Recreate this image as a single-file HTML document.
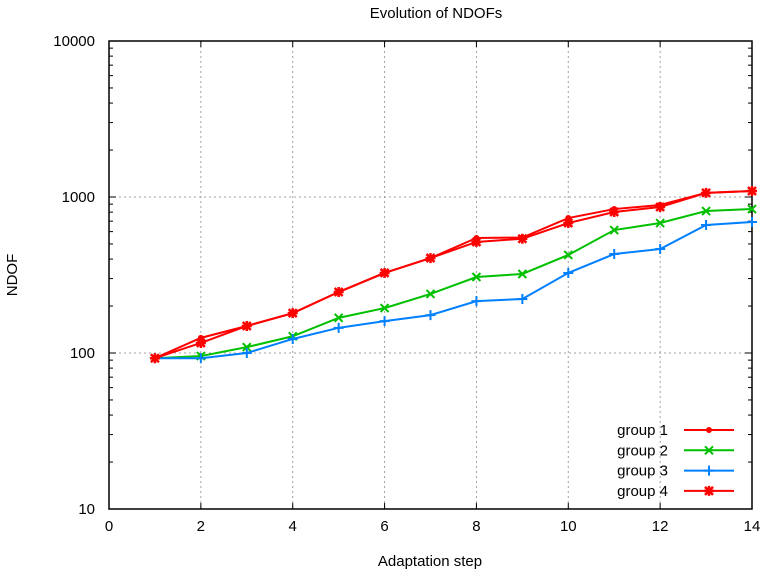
<!DOCTYPE html>
<html><head><meta charset="utf-8"><style>
body{margin:0;background:#fff}
svg{display:block;font-family:"Liberation Sans",sans-serif}
</style></head><body>
<svg id="chart" width="764" height="571" xmlns="http://www.w3.org/2000/svg"></svg>
<script>
const steps=[1,2,3,4,5,6,7,8,9,10,11,12,13,14];
const group1=[92.6,125,149,180,246,326,406,546,550,733,837,889,1062,1092];
const group2=[92.6,95.6,109,128,168,194,239,307,321,425,614,681,813,837];
const group3=[92.6,92.6,100,123,145,160,175,215,222,326,431,464,662,692];
const group4=[92.6,116,149,180,246,326,406,515,540,681,801,863,1062,1092];
const xTicks=[0,2,4,6,8,10,12,14];
const yTicks=[10,100,1000,10000];
const seriesNames=["group 1","group 2","group 3","group 4"];
const colors=["#ff0000","#00c000","#0080ff","#ff0000"];
const L=109,R=752,T=41,B=509;
const NS="http://www.w3.org/2000/svg";
const svg=document.getElementById('chart');
const xs=v=>L+(v-0)/(14-0)*(R-L);
const ys=v=>B-(Math.log10(v)-1)/3*(B-T);
function mk(tag,attrs,parent){const e=document.createElementNS(NS,tag);for(const k in attrs)e.setAttribute(k,attrs[k]);(parent||svg).appendChild(e);return e;}
xTicks.forEach(t=>{if(t>0&&t<14){const g=mk('line',{x1:xs(t),x2:xs(t),y1:T,y2:B,stroke:'#a0a0a0','stroke-dasharray':'2,3'});

}});
yTicks.forEach(t=>{if(t>10&&t<10000){const g=mk('line',{x1:L,x2:R,y1:ys(t),y2:ys(t),stroke:'#a0a0a0','stroke-dasharray':'2,3'});

}});
const fr=mk('rect',{x:L,y:T,width:R-L,height:B-T,fill:'none',stroke:'#000','stroke-width':1.5});


xTicks.forEach(t=>{const x=xs(t);
mk('line',{x1:x,x2:x,y1:B,y2:B-6,stroke:'#000'});mk('line',{x1:x,x2:x,y1:T,y2:T+6,stroke:'#000'});
const tx=mk('text',{x:x,y:B+22,'text-anchor':'middle','font-size':15});tx.textContent=t;

});
yTicks.forEach(t=>{const y=ys(t);
mk('line',{x1:L,x2:L+7,y1:y,y2:y,stroke:'#000'});mk('line',{x1:R,x2:R-7,y1:y,y2:y,stroke:'#000'});
const tx=mk('text',{x:95,y:y+5,'text-anchor':'end','font-size':15});tx.textContent=t;


if(t<10000)for(let m=2;m<10;m++){const yy=ys(t*m);mk('line',{x1:L,x2:L+4,y1:yy,y2:yy,stroke:'#000'});mk('line',{x1:R,x2:R-4,y1:yy,y2:yy,stroke:'#000'});}});
let tt=mk('text',{x:436,y:18,'text-anchor':'middle','font-size':15});tt.textContent='Evolution of NDOFs';


tt=mk('text',{x:430,y:566,'text-anchor':'middle','font-size':15});tt.textContent='Adaptation step';


tt=mk('text',{x:17,y:275,'text-anchor':'middle','font-size':15,transform:'rotate(-90 17 275)'});tt.textContent='NDOF';


function marker(type,x,y,c,g){
 if(type==0){mk('circle',{cx:x,cy:y,r:3,fill:c},g);}
 else if(type==1){mk('path',{d:`M${x-4},${y-4}L${x+4},${y+4}M${x-4},${y+4}L${x+4},${y-4}`,stroke:c,'stroke-width':2},g);}
 else if(type==2){mk('path',{d:`M${x-5},${y}L${x+5},${y}M${x},${y-5}L${x},${y+5}`,stroke:c,'stroke-width':2},g);}
 else {mk('path',{d:`M${x-4},${y-4}L${x+4},${y+4}M${x-4},${y+4}L${x+4},${y-4}M${x-5},${y}L${x+5},${y}M${x},${y-5}L${x},${y+5}`,stroke:c,'stroke-width':2.5},g);}
}
const all=[group1,group2,group3,group4];
all.forEach((ser,i)=>{
 const g=mk('g',{});
 
 
 const pts=ser.map((v,j)=>xs(steps[j])+','+ys(v)).join(' ');
 mk('polyline',{points:pts,fill:'none',stroke:colors[i],'stroke-width':2},g);
 ser.forEach((v,j)=>marker(i,xs(steps[j]),ys(v),colors[i],g));
 const ly=430+i*20.3;
 const lg=mk('g',{});
 
 
 const t=mk('text',{x:668,y:ly+5,'text-anchor':'end','font-size':15},lg);t.textContent=seriesNames[i];
 mk('line',{x1:684,x2:734,y1:ly,y2:ly,stroke:colors[i],'stroke-width':2},lg);
 marker(i,709,ly,colors[i],lg);
});
</script>
</body></html>
